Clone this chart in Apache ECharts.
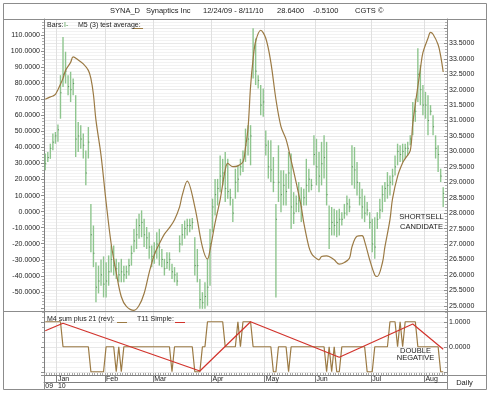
<!DOCTYPE html>
<html><head><meta charset="utf-8">
<script src="https://cdn.jsdelivr.net/npm/echarts@6/dist/echarts.min.js"></script>
<style>html,body{margin:0;padding:0;background:#fff}#c{width:490px;height:393px}</style>
</head><body><div id="c"></div>
<script>
// ---- categories (trading days) ----
const holidays = ['2009-12-25','2010-01-01','2010-01-18','2010-02-15','2010-04-02','2010-05-31','2010-07-05'];
const firstDay = [2009, 11, 24];
const lastDay = [2010, 7, 11];
const monthNames = ['Jan','Feb','Mar','Apr','May','Jun','Jul','Aug','Sep','Oct','Nov','Dec'];
const yearLabels = {'2009': '09', '2010': '10'};

// ---- price bars (right axis) ----
const highs = [29.93,29.98,30.25,30.58,30.63,30.87,32.47,33.71,33.23,32.47,32.58,32.36,31.82,30.95,30.85,30.58,30.03,30.79,28.3,27.6,
26.41,26.3,26.5,26.6,26.41,26.63,26.95,26.95,26.52,26.41,26.52,26.3,26.3,26.52,26.95,27.49,27.82,27.98,28.09,27.82,
27.55,27.38,26.95,27.06,27.38,27.49,26.84,26.52,26.73,26.73,26.36,26.25,26.08,27.28,27.65,27.76,27.82,27.82,27.84,27.22,
26.84,25.87,25.44,25.76,26.52,27.49,28.47,29.11,29.11,29.87,29.76,29.98,29.76,28.79,28.47,29.44,29.55,29.76,30.03,30.74,
30.85,30.85,33.99,33.66,32.47,32.15,32.04,30.68,30.36,30.36,29.82,28.3,30.2,29.39,29.39,29.28,29.98,29.93,28.68,28.57,
29.01,28.84,28.79,29.76,29.44,29.11,30.52,30.41,29.98,30.31,30.52,30.31,28.25,28.2,28.14,28.09,28.14,28.03,28.3,28.57,
28.47,30.2,30.14,29.66,29.01,28.79,28.57,28.36,28.03,27.82,27.87,28.03,28.47,28.9,29.01,29.33,29.22,29.44,29.87,30.25,
30.2,30.25,30.25,30.31,30.52,31.6,31.71,33.34,32.8,32.15,31.93,31.82,31.5,31.17,30.52,30.2,29.44,28.84];
const lows = [29.39,29.66,29.76,30.04,30.25,30.31,31.06,32.09,32.2,31.82,31.6,31.82,29.82,29.98,30.09,29.77,28.9,29.77,26.73,26.25,
25.11,25.4,25.65,25.27,25.27,25.65,26.08,25.98,25.87,25.76,25.76,25.76,25.87,25.98,26.3,26.73,26.84,27.17,27.22,26.9,
26.84,26.52,26.25,26.36,26.52,26.3,26.25,25.98,26.19,26.14,25.87,25.76,25.65,26.73,26.95,27.17,27.28,27.38,27.47,25.98,
25.76,24.9,24.9,24.9,25.0,25.65,27.38,27.92,28.25,28.68,28.9,28.36,28.47,28.25,27.71,28.47,28.68,29.22,29.33,29.66,
29.87,29.55,32.36,32.15,32.04,31.17,31.12,29.87,29.12,29.01,28.68,25.27,28.36,28.03,28.25,28.25,28.79,27.49,27.65,28.03,
28.03,27.71,28.25,28.25,28.68,28.74,29.55,28.9,28.68,28.9,29.12,28.25,26.84,27.28,27.28,27.22,27.28,27.6,27.82,27.92,
28.03,28.9,28.79,28.57,28.25,27.82,27.71,27.92,27.49,26.73,26.52,27.49,27.82,28.03,28.36,28.47,28.57,28.9,29.22,29.55,
29.66,29.66,29.77,29.87,30.2,30.52,30.96,31.6,31.5,31.17,31.06,30.52,31.17,30.52,29.77,29.33,29.01,28.2];
const closes = [29.6,29.8,30.1,30.3,30.5,30.7,31.9,32.5,32.6,32.1,32.0,32.2,30.4,30.5,30.4,30.2,29.3,30.3,27.3,26.7,
25.6,25.8,26.0,25.7,25.8,26.1,26.5,26.3,26.2,26.0,26.1,26.0,26.1,26.3,26.7,27.1,27.3,27.6,27.7,27.3,
27.2,26.9,26.6,26.7,27.0,26.9,26.5,26.2,26.4,26.5,26.1,26.0,25.8,27.0,27.3,27.5,27.6,27.6,27.7,26.3,
26.3,25.2,25.1,25.3,25.6,27.0,28.2,28.6,28.8,29.2,29.3,28.8,28.7,28.5,28.0,29.0,29.1,29.5,29.7,30.2,
30.4,30.5,33.2,32.6,32.3,31.5,31.6,30.2,29.5,29.4,29.0,27.8,29.0,28.6,28.9,28.7,29.3,28.2,28.0,28.3,
28.4,28.2,28.5,28.9,29.1,28.9,29.9,29.5,29.2,29.6,29.8,28.6,27.5,27.7,27.6,27.7,27.8,27.8,28.0,28.3,
28.2,29.5,29.4,29.0,28.5,28.2,28.0,28.1,27.7,27.0,26.9,27.8,28.1,28.6,28.8,28.9,29.0,29.2,29.5,30.0,
29.9,30.0,30.1,30.1,30.4,31.0,31.3,32.5,32.0,31.5,31.5,31.0,31.3,30.8,30.1,29.9,29.2,28.64];

// ---- M5 (3) test average (left axis), [bar index, value] ----
const avgPoints = [[0,70],[2,71.5],[3,72],[4,73],[5,76],[7,83],[8,88],[10,93],[11,96.4],[13,94.5],[15,92],[17,88],[18,83],[19,73],
[20,57],[22,35],[24,6],[26,-20],[28,-38],[30,-53],[32,-59],[35,-61.5],[37,-58.5],[39,-51],[41,-38],[43,-27],[45,-20],[47,-14],
[49,-10],[51,-5],[53,3],[54,10],[56,19],[59,3],[62,-22],[64,-29.5],[65,-24],[67,-7],[69,7.5],[71,26],[72,30],[74,28],[76,28.5],
[78,31],[79,40],[80,52],[81,78],[82,95],[83,106],[85,113],[87,108],[89,93],[91,70],[93,53],[95,45],[97,32],[99,18],[101,3],
[102,-7],[104,-22],[105,-26],[106,-28],[108,-30],[109,-28],[111,-27.5],[112,-28],[114,-30],[116,-32.7],[118,-31.7],[120,-29],
[121,-22],[123,-15.4],[125,-15],[126,-18.5],[128,-30],[130,-39.4],[131,-40.4],[133,-32],[134,-22],[136,-5],[137,8],[139,22],
[141,30.4],[142,33],[144,38],[145,55],[147,78],[148,89],[149,99],[151,108],[152,111.7],[153,110.5],[155,104],[156,97],[157,87]];

// ---- lower panel ----
const m4Values = [1,1,1,1,1,1,1,0,0,0,0,0,0,0,0,0,0,0,-1,-1,-1,-1,-1,-1,0,0,0,0,-1,0,-1,
0,0,0,0,0,0,0,0,0,0,0,0,0,0,0,0,0,0,0,-1,0,0,0,0,0,0,0,0,-1,-1,-1,0,0,
1,1,1,1,1,1,1,0,0,0,0,0,1,0,1,1,1,1,0,0,0,0,0,0,0,0,-1,-1,0,0,0,0,-1,
0,0,0,0,0,0,0,0,0,0,0,0,0,0,-1,0,-1,0,-1,-1,0,0,0,0,0,0,0,0,0,0,-1,-1,-1,
0,0,0,0,0,0,1,1,1,0,1,0,1,1,1,1,1,0,0,0,0,0,0,0,0,0,-1,-1];
const t11Points = [[0,0.64],[7,0.94],[61,-0.97],[81,1.0],[116,-0.42],[145,0.91],[157,-0.1]];

// ---- axis ticks ----
const leftLabelRange = [-50, 110];
const rightLabelRange = [25, 33.5];
const lowerLabels = [0, 1];

// build trading-day categories
function tradingDays() {
  const out = [];
  let t = Date.UTC(firstDay[0], firstDay[1], firstDay[2]);
  const end = Date.UTC(lastDay[0], lastDay[1], lastDay[2]);
  while (t <= end) {
    const d = new Date(t);
    const wd = d.getUTCDay();
    const s = d.toISOString().slice(0, 10);
    if (wd !== 0 && wd !== 6 && holidays.indexOf(s) < 0) out.push(s);
    t += 86400000;
  }
  return out;
}
const categories = tradingDays();
categories.push('');
const monthStart = new Set();
const yearStart = new Set([0]);
for (let i = 1; i < categories.length; i++) {
  const c = categories[i], p = categories[i - 1];
  if (c && p && c.slice(5, 7) !== p.slice(5, 7)) monthStart.add(i);
  if (c && p && c.slice(0, 4) !== p.slice(0, 4)) yearStart.add(i);
}
const isMonth = (idx) => monthStart.has(idx);
const isYear = (idx) => yearStart.has(idx);

const FONT = 'Liberation Sans, Arial, Helvetica, sans-serif';
const TXT = '#222';
const AX = '#808080';

const chart = echarts.init(document.getElementById('c'), null, {renderer: 'canvas'});

function txt(x, y, s, opts) {
  return {type: 'text', x: x, y: y, z: 50, style: Object.assign({text: s, font: '7.5px ' + FONT, fill: TXT, textVerticalAlign: 'middle', verticalAlign: 'middle'}, opts || {})};
}
function seg(x1, y1, x2, y2, color, w) {
  return {type: 'line', z: 40, shape: {x1: x1, y1: y1, x2: x2, y2: y2}, style: {stroke: color || '#8c8c8c', lineWidth: w || 1}};
}

const option = {
  animation: false,
  backgroundColor: '#fff',
  textStyle: {fontFamily: FONT},
  grid: [
    {left: 44, top: 19, width: 403, height: 292},
    {left: 44, top: 311, width: 403, height: 64}
  ],
  xAxis: [
    {type: 'category', gridIndex: 0, data: categories, boundaryGap: true,
      axisLine: {show: false, onZero: false}, axisTick: {show: false}, axisLabel: {show: false},
      splitLine: {show: true, interval: isMonth, lineStyle: {color: '#e0e0e0', width: 1}}},
    {type: 'category', gridIndex: 1, data: categories, boundaryGap: true, position: 'bottom',
      axisLine: {show: true, onZero: false, lineStyle: {color: AX}},
      axisTick: {show: true, interval: 0, inside: true, length: 2, lineStyle: {color: '#a8a8a8'}},
      axisLabel: {show: false},
      splitLine: {show: true, interval: isMonth, lineStyle: {color: '#e0e0e0', width: 1}}},
    {type: 'category', gridIndex: 1, data: categories, boundaryGap: true, position: 'bottom',
      axisLine: {show: false, onZero: false},
      axisTick: {show: true, interval: isMonth, length: 7, lineStyle: {color: AX}},
      axisLabel: {show: true, interval: isMonth, align: 'left', margin: 1, fontSize: 7, color: TXT, fontFamily: FONT,
        formatter: (v) => v ? monthNames[parseInt(v.slice(5, 7), 10) - 1] : ''},
      splitLine: {show: false}},
    {type: 'category', gridIndex: 1, data: categories, boundaryGap: true, position: 'bottom', offset: 7,
      axisLine: {show: true, onZero: false, lineStyle: {color: AX}},
      axisTick: {show: true, interval: (i) => i > 0 && isYear(i), length: 7, lineStyle: {color: AX}},
      axisLabel: {show: true, interval: isYear, align: 'left', margin: 1, fontSize: 7, color: TXT, fontFamily: FONT,
        formatter: (v) => v ? yearLabels[v.slice(0, 4)] : ''},
      splitLine: {show: false}}
  ],
  yAxis: [
    {type: 'value', gridIndex: 0, position: 'left', min: -61.9, max: 120, splitNumber: 18,
      axisLine: {show: true, lineStyle: {color: AX}},
      axisTick: {show: true, length: 3, lineStyle: {color: '#909090'}},
      minorTick: {show: true, splitNumber: 5, length: 2, lineStyle: {color: '#b0b0b0'}},
      axisLabel: {fontSize: 7, color: TXT, margin: 4, fontFamily: FONT,
        formatter: (v) => (v >= leftLabelRange[0] - 0.01 && v <= leftLabelRange[1] + 0.01) ? v.toFixed(4) : ''},
      splitLine: {show: false}},
    {type: 'value', gridIndex: 0, position: 'right', min: 24.83, max: 34.29, splitNumber: 19,
      axisLine: {show: true, lineStyle: {color: AX}},
      axisTick: {show: true, inside: true, length: 3, lineStyle: {color: '#909090'}},
      minorTick: {show: true, splitNumber: 5, length: 2, lineStyle: {color: '#b0b0b0'}},
      axisLabel: {fontSize: 7, color: TXT, margin: 2, fontFamily: FONT,
        formatter: (v) => (v >= rightLabelRange[0] - 0.001 && v <= rightLabelRange[1] + 0.001) ? v.toFixed(4) : ''},
      splitLine: {show: true, lineStyle: {color: '#e8e8e8', width: 1}},
      minorSplitLine: {show: true, lineStyle: {color: '#f2f2f2', width: 1}}},
    {type: 'value', gridIndex: 1, position: 'right', min: -1.13, max: 1.43, splitNumber: 2,
      axisLine: {show: true, lineStyle: {color: AX}},
      axisTick: {show: true, inside: true, length: 3, lineStyle: {color: '#909090'}},
      minorTick: {show: true, splitNumber: 5, length: 2, lineStyle: {color: '#b0b0b0'}},
      axisLabel: {fontSize: 7, color: TXT, margin: 2, fontFamily: FONT,
        formatter: (v) => lowerLabels.indexOf(Math.round(v * 1000) / 1000) >= 0 ? v.toFixed(4) : ''},
      splitLine: {show: true, lineStyle: {color: '#e8e8e8', width: 1}},
      minorSplitLine: {show: true, lineStyle: {color: '#f2f2f2', width: 1}}},
    {type: 'value', gridIndex: 1, position: 'left', min: -1.13, max: 1.43, splitNumber: 2,
      axisLine: {show: true, lineStyle: {color: AX}},
      axisTick: {show: true, length: 3, lineStyle: {color: '#909090'}},
      minorTick: {show: true, splitNumber: 5, length: 2, lineStyle: {color: '#b0b0b0'}},
      axisLabel: {show: false}, splitLine: {show: false}}
  ],
  series: [
    {type: 'custom', name: 'Bars', xAxisIndex: 0, yAxisIndex: 1, z: 3,
      data: highs.map((h, i) => [i, lows[i], h, closes[i]]),
      encode: {x: 0, y: [1, 2, 3]},
      renderItem: function (params, api) {
        const i = api.value(0);
        const top = api.coord([i, api.value(2)]);
        const bot = api.coord([i, api.value(1)]);
        const cl = api.coord([i, api.value(3)]);
        return {type: 'group', children: [
          {type: 'line', shape: {x1: top[0], y1: top[1], x2: bot[0], y2: bot[1]}, style: {stroke: '#8ec58e', lineWidth: 1.4}},
          {type: 'line', shape: {x1: cl[0], y1: cl[1], x2: cl[0] + 1, y2: cl[1]}, style: {stroke: '#5b8d5b', lineWidth: 1}}
        ]};
      }},
    {type: 'line', name: 'M5 (3) test average', xAxisIndex: 0, yAxisIndex: 0, z: 4,
      data: avgPoints, smooth: 0.35, showSymbol: false, symbol: 'none',
      lineStyle: {color: '#9b7a44', width: 1.2}},
    {type: 'line', name: 'M4 sum plus 21 (rev)', xAxisIndex: 1, yAxisIndex: 2, z: 4,
      data: m4Values, showSymbol: false, symbol: 'none',
      lineStyle: {color: '#9b7a44', width: 1.2}},
    {type: 'line', name: 'T11 Simple', xAxisIndex: 1, yAxisIndex: 2, z: 5,
      data: t11Points, showSymbol: false, symbol: 'none',
      lineStyle: {color: '#d2332c', width: 1.2}}
  ],
  graphic: [
    {type: 'rect', z: 40, shape: {x: 3.5, y: 3.5, width: 483, height: 386}, style: {fill: 'none', stroke: '#8c8c8c', lineWidth: 1}},
    seg(3.5, 19.5, 486.5, 19.5),
    seg(3.5, 311.5, 486.5, 311.5),
    seg(447.5, 19.5, 447.5, 389.5),
    seg(447, 375.5, 486.5, 375.5),
    seg(44.5, 375, 44.5, 389.5),
    txt(110, 11, 'SYNA_D'),
    txt(146, 11, 'Synaptics Inc'),
    txt(203, 11, '12/24/09 - 8/11/10'),
    txt(277, 11, '28.6400'),
    txt(313, 11, '-0.5100'),
    txt(355, 11, 'CGTS \u00a9'),
    txt(47, 25, 'Bars:', {font: '7px ' + FONT}),
    txt(64, 25, 'I-', {font: '7px ' + FONT, fill: '#4f9a4f'}),
    txt(78, 25, 'M5 (3) test average:', {font: '7px ' + FONT}),
    seg(133, 28.5, 143, 28.5, '#9b7a44', 1),
    txt(47, 319, 'M4 sum plus 21 (rev):', {font: '7px ' + FONT}),
    seg(117, 322.5, 127, 322.5, '#9b7a44', 1),
    txt(137, 319, 'T11 Simple:', {font: '7px ' + FONT}),
    seg(175, 322.5, 185, 322.5, '#d2332c', 1),
    txt(421.5, 217, 'SHORTSELL', {font: '7.5px ' + FONT, textAlign: 'center', align: 'center'}),
    txt(421.5, 227, 'CANDIDATE', {font: '7.5px ' + FONT, textAlign: 'center', align: 'center'}),
    txt(415.5, 350.5, 'DOUBLE', {font: '7.5px ' + FONT, textAlign: 'center', align: 'center'}),
    txt(415.5, 358, 'NEGATIVE', {font: '7.5px ' + FONT, textAlign: 'center', align: 'center'}),
    txt(464.5, 382.5, 'Daily', {font: '7.5px ' + FONT, textAlign: 'center', align: 'center'})
  ]
};
chart.setOption(option);
</script>
</body></html>
